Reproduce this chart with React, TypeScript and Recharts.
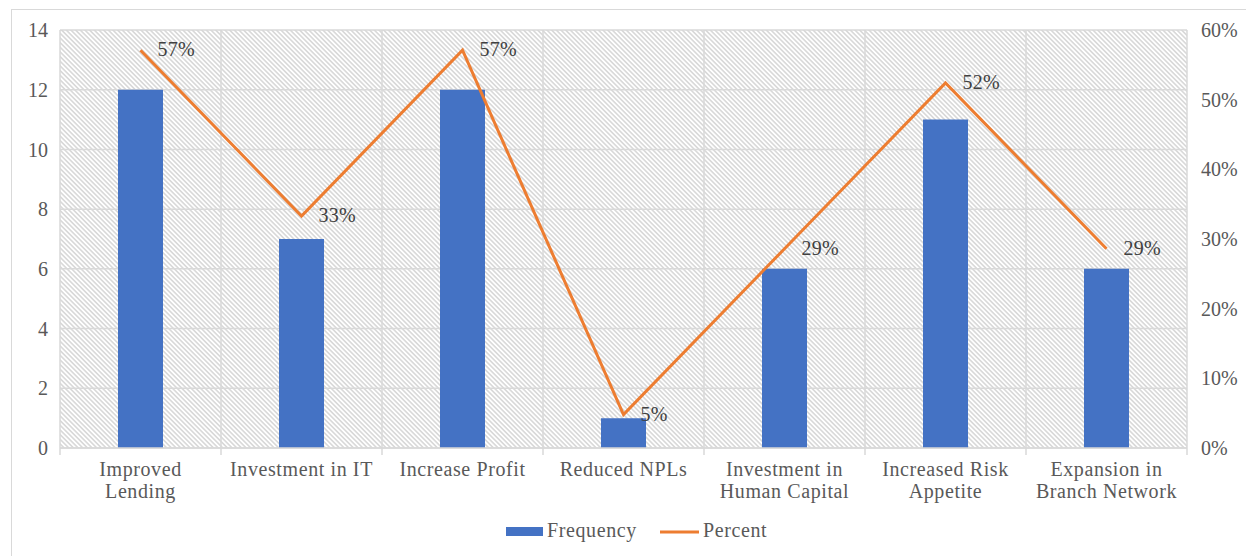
import React from "react";
import { Bar, CartesianGrid, ComposedChart, LabelList, Line, XAxis, YAxis } from "recharts";

const categories = [
  "Improved\nLending",
  "Investment in IT",
  "Increase Profit",
  "Reduced NPLs",
  "Investment in\nHuman Capital",
  "Increased Risk\nAppetite",
  "Expansion in\nBranch Network",
];
const frequency = [12, 7, 12, 1, 6, 11, 6];
const percent = [57.1, 33.3, 57.1, 4.8, 28.6, 52.4, 28.6];
const leftTicks = [0, 2, 4, 6, 8, 10, 12, 14];
const rightTicks = [0, 10, 20, 30, 40, 50, 60];

const data = categories.map((name, i) => ({ name, frequency: frequency[i], percent: percent[i] }));

const W = 1246;
const H = 556;
const PLOT_LEFT = 60;
const PLOT_RIGHT = 1187;
const BAND = (PLOT_RIGHT - PLOT_LEFT) / categories.length;
const FONT = "Liberation Serif, DejaVu Serif, serif";
const GRID = "#d9d9d9";
const TEXT = "#595959";

function CategoryTick(props: any) {
  const { x, y, payload, index } = props;
  const lines = String(payload.value).split("\n");
  return (
    <g>
      {index === 0 && <line x1={x - BAND / 2} x2={x - BAND / 2} y1={y - 8} y2={y - 1} stroke={GRID} strokeWidth={1.5} />}
      <line x1={x + BAND / 2} x2={x + BAND / 2} y1={y - 8} y2={y - 1} stroke={GRID} strokeWidth={1.5} />
      <text x={x} y={y + 20} textAnchor="middle" style={{ fontFamily: FONT }} fontSize={20} fill={TEXT} letterSpacing={0.6}>
        {lines.map((l, i) => (
          <tspan key={i} x={x} dy={i === 0 ? 0 : 22}>
            {l}
          </tspan>
        ))}
      </text>
    </g>
  );
}

function PercentLabel(props: any) {
  const { x, y, value } = props;
  return (
    <text x={x + 17} y={y - 1} dominantBaseline="central" style={{ fontFamily: FONT }} fontSize={20} fill="#404040" letterSpacing={0.3}>
      {Math.round(value)}%
    </text>
  );
}

export default function App() {
  return (
    <div style={{ position: "fixed", left: 0, top: 0, width: W, height: H, overflow: "hidden", background: "#fff" }}>
      <div style={{ position: "absolute", left: 11, top: 9, width: 1260, height: 600, border: `1px solid ${GRID}` }} />
      <div style={{ position: "absolute", left: 0, top: 0 }}>
        <ComposedChart width={W} height={H} data={data} margin={{ top: 30, right: 9, left: 10, bottom: 50 }}>
          <defs>
            <pattern id="hatch" patternUnits="userSpaceOnUse" width={8} height={3.3} patternTransform="rotate(45)">
              <rect width={8} height={3.3} fill="#ffffff" />
              <line x1={0} x2={8} y1={0.8} y2={0.8} stroke="#d0d0d0" strokeWidth={1.3} />
            </pattern>
          </defs>
          <CartesianGrid
            yAxisId="left"
            fill="url(#hatch)"
            stroke={GRID}
            strokeWidth={1.5}
            verticalCoordinatesGenerator={() => categories.map((_, i) => PLOT_LEFT + i * BAND).concat([PLOT_RIGHT])}
          />
          <XAxis
            dataKey="name"
            interval={0}
            height={58}
            tickLine={false}
            axisLine={{ stroke: GRID, strokeWidth: 1.5 }}
            tick={<CategoryTick />}
          />
          <YAxis
            yAxisId="left"
            domain={[0, 14]}
            ticks={leftTicks}
            width={50}
            axisLine={false}
            tickLine={false}
            tickMargin={6}
            tick={{ style: { fontFamily: FONT }, fontSize: 20, fill: TEXT }}
          />
          <YAxis
            yAxisId="right"
            orientation="right"
            domain={[0, 60]}
            ticks={rightTicks}
            width={50}
            axisLine={false}
            tickLine={false}
            tickMargin={8}
            tickFormatter={(v) => `${v}%`}
            tick={{ style: { fontFamily: FONT }, fontSize: 20, fill: TEXT }}
          />
          <Bar yAxisId="left" dataKey="frequency" fill="#4472C4" barSize={45} isAnimationActive={false} />
          <Line
            yAxisId="right"
            dataKey="percent"
            stroke="#ED7D31"
            strokeWidth={3}
            dot={false}
            activeDot={false}
            strokeLinejoin="miter"
            isAnimationActive={false}
          >
            <LabelList dataKey="percent" content={<PercentLabel />} />
          </Line>
        </ComposedChart>
      </div>
      <svg style={{ position: "absolute", left: 0, top: 510 }} width={W} height={40}>
        <rect x={506} y={17} width={37} height={9} fill="#4472C4" />
        <text x={547} y={20} dominantBaseline="central" style={{ fontFamily: FONT }} fontSize={20} fill={TEXT} letterSpacing={0.6}>
          Frequency
        </text>
        <line x1={660} x2={699} y1={22} y2={22} stroke="#ED7D31" strokeWidth={3} />
        <text x={703} y={20} dominantBaseline="central" style={{ fontFamily: FONT }} fontSize={20} fill={TEXT} letterSpacing={0.6}>
          Percent
        </text>
      </svg>
    </div>
  );
}
